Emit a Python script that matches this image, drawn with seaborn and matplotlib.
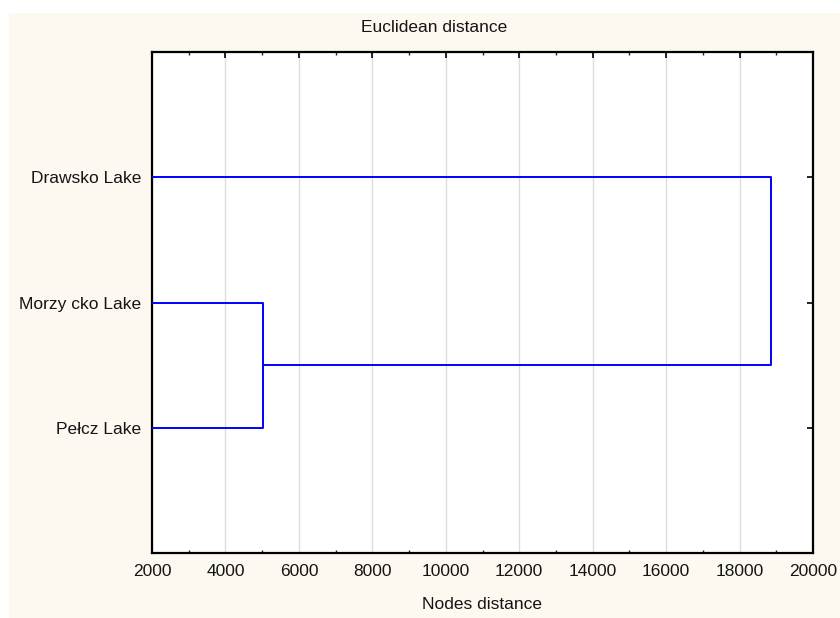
import matplotlib
matplotlib.use("Agg")
import matplotlib.pyplot as plt
import numpy as np
import pandas as pd
import seaborn as sns
from matplotlib.patches import Rectangle
from matplotlib.ticker import MultipleLocator

# leaves, bottom to top, and linkage heights (distance)
leaves = ["Pełcz Lake", "Morzy cko Lake", "Drawsko Lake"]
merge_dist = [5020, 18850]
x_min, x_max = 2000, 20000
x_ticks = [2000, 4000, 6000, 8000, 10000, 12000, 14000, 16000, 18000, 20000]

sns.set_style("white")
plt.rcParams["font.family"] = ["Liberation Sans", "DejaVu Sans"]
plt.rcParams["font.size"] = 12.5
plt.rcParams["text.color"] = "#151515"

# dendrogram segments built from the linkage
leaf_y = {name: i + 1 for i, name in enumerate(leaves)}
y1, y2, y3 = leaf_y[leaves[0]], leaf_y[leaves[1]], leaf_y[leaves[2]]
d1, d2 = merge_dist
mid1 = (y1 + y2) / 2
paths = [
    [(x_min, y1), (d1, y1), (d1, y2), (x_min, y2)],
    [(d1, mid1), (d2, mid1), (d2, y3), (x_min, y3)],
]
rows = []
for seg, pts in enumerate(paths):
    for order, (x, y) in enumerate(pts):
        rows.append({"seg": seg, "order": order, "x": x, "y": y})
df = pd.DataFrame(rows)

fig = plt.figure(figsize=(8.4, 6.18), dpi=100)
fig.patch.set_facecolor("white")
fig.patches.append(Rectangle((9 / 840, 0), 1, 1 - 13 / 618, transform=fig.transFigure,
                             facecolor="#FDF9F0", edgecolor="none", zorder=-10))
ax = fig.add_axes([152 / 840, 1 - 553 / 618, 661 / 840, 501 / 618])
ax.set_facecolor("white")

ax.grid(axis="x", color="#dcdcdc", linewidth=1.0)
ax.set_axisbelow(True)

sns.lineplot(data=df, x="x", y="y", units="seg", estimator=None, sort=False,
             color="#0000FF", linewidth=1.4, ax=ax, zorder=3)

ax.set_xlim(x_min, x_max)
ax.set_ylim(0, len(leaves) + 1)
ax.set_xticks(x_ticks)
ax.xaxis.set_minor_locator(MultipleLocator(1000))
ax.set_yticks(list(leaf_y.values()))
ax.set_yticklabels(leaves)

ax.tick_params(axis="both", which="major", direction="in", length=4, width=1.2,
               top=True, right=True, colors="black", labelcolor="#151515",
               labelsize=12.5, pad=8)
ax.tick_params(axis="x", which="minor", direction="in", length=2, width=1.0,
               top=True, bottom=True)

for sp in ax.spines.values():
    sp.set_visible(True)
    sp.set_color("black")
    sp.set_linewidth(1.6)

ax.set_xlabel("Nodes distance", fontsize=12.5, labelpad=13, color="#151515")
ax.set_ylabel("")
fig.text(434 / 840, 1 - 28 / 618, "Euclidean distance", ha="center", va="center",
         fontsize=12.5)

fig.savefig("out.png", dpi=100)
